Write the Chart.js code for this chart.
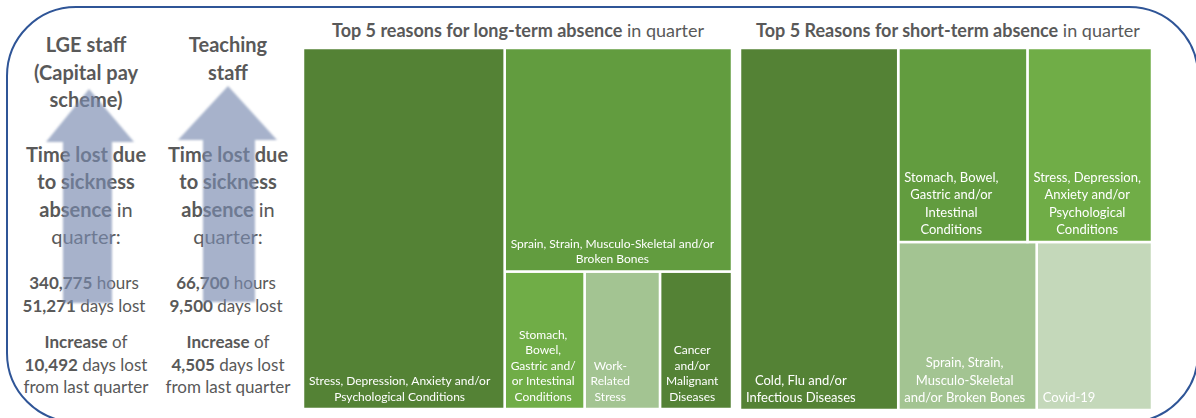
<!DOCTYPE html>
<html>
<head>
<meta charset="utf-8">
<script src="https://cdn.jsdelivr.net/npm/chart.js@4.4.0/dist/chart.umd.min.js"></script>
<style>
html, body { margin:0; padding:0; background:#fff; width:1196px; height:418px; overflow:hidden; }
body { position:relative; font-family:Lato, "Open Sans", sans-serif; color:#595959; }
#frame { position:absolute; left:6px; top:6px; width:1193px; height:417px; box-sizing:border-box;
  border:2px solid #2F5597; border-radius:70px; }
.col { position:absolute; width:160px; text-align:center; }
.col b { font-weight:700; }
.head { font-size:20px; line-height:27.5px; font-weight:700; }
.big { font-size:20px; line-height:27.3px; }
.num { font-size:17px; line-height:23px; }
.title { position:absolute; top:19px; font-size:18px; white-space:nowrap; transform:translateX(-50%); }
canvas { position:absolute; }
#arrows { position:absolute; left:0; top:0; }
</style>
</head>
<body>
<div id="frame"></div>

<div class="col head" style="left:6px;top:31px">LGE staff<br>(Capital pay<br>scheme)</div>
<div class="col head" style="left:148px;top:31px">Teaching<br>staff</div>

<div class="col big" style="left:6px;top:141px"><b>Time lost due<br>to sickness<br>absence</b> in<br>quarter:</div>
<div class="col big" style="left:148px;top:141px"><b>Time lost due<br>to sickness<br>absence</b> in<br>quarter:</div>

<div class="col num" style="left:4px;top:271px"><b>340,775</b> hours<br><b>51,271</b> days lost</div>
<div class="col num" style="left:146px;top:271px"><b>66,700</b> hours<br><b>9,500</b> days lost</div>

<div class="col num" style="left:6px;top:331px;line-height:22.5px"><b>Increase</b> of<br><b>10,492</b> days lost<br>from last quarter</div>
<div class="col num" style="left:148px;top:331px;line-height:22.5px"><b>Increase</b> of<br><b>4,505</b> days lost<br>from last quarter</div>

<svg id="arrows" width="300" height="418">
  <defs><filter id="soft"><feGaussianBlur stdDeviation="1.2"/></filter></defs>
  <g fill="rgba(120,138,176,0.66)" filter="url(#soft)">
    <polygon points="89,89 134,142 112,142 112,303 63,303 63,142 46,142"/>
    <polygon points="228,86 277,140 255,140 255,302 203,302 203,140 178,140"/>
  </g>
</svg>

<div class="title" style="left:518px"><b>Top 5 reasons for long-term absence</b> in quarter</div>
<div class="title" style="left:948px"><b>Top 5 Reasons for short-term absence</b> in quarter</div>

<canvas id="longChart" width="429" height="361" style="left:303px;top:48px"></canvas>
<canvas id="shortChart" width="412" height="362" style="left:740px;top:48px"></canvas>

<script>
// long-term absence reasons (share of time lost, %)
var longLabels = [
  ['Stress, Depression, Anxiety and/or', 'Psychological Conditions'],
  ['Sprain, Strain, Musculo-Skeletal and/or', 'Broken Bones'],
  ['Stomach,', 'Bowel,', 'Gastric and/', 'or Intestinal', 'Conditions'],
  ['Work-', 'Related', 'Stress'],
  ['Cancer', 'and/or', 'Malignant', 'Diseases']
];
var longValues = [47.0, 32.8, 7.1, 6.7, 6.4];
var longColors = ['#548235', '#629C3F', '#70AD47', '#A3C492', '#548235'];

// short-term absence reasons (share of time lost, %)
var shortLabels = [
  ['Cold, Flu and/or', 'Infectious Diseases'],
  ['Stomach, Bowel,', 'Gastric and/or', 'Intestinal', 'Conditions'],
  ['Stress, Depression,', 'Anxiety and/or', 'Psychological', 'Conditions'],
  ['Sprain, Strain,', 'Musculo-Skeletal', 'and/or Broken Bones'],
  ['Covid-19']
];
var shortValues = [38.4, 16.8, 16.2, 15.6, 13.0];
var shortColors = ['#548235', '#629C3F', '#70AD47', '#A3C492', '#C4D8BA'];

// worst aspect ratio of a row laid along a side of length s
function worst(areas, s) {
  var sum = 0, mx = -Infinity, mn = Infinity;
  areas.forEach(function (a) { sum += a; mx = Math.max(mx, a); mn = Math.min(mn, a); });
  return Math.max(s * s * mx / (sum * sum), (sum * sum) / (s * s * mn));
}

function squarify(areas, ids, x, y, w, h, out) {
  var i = 0;
  while (i < ids.length) {
    var s = Math.min(w, h);
    var row = [ids[i]], best = worst([areas[ids[i]]], s), j = i + 1;
    while (j < ids.length) {
      var r = worst(row.concat(ids[j]).map(function (k) { return areas[k]; }), s);
      if (r > best) break;
      row.push(ids[j]); best = r; j++;
    }
    var sum = row.reduce(function (t, k) { return t + areas[k]; }, 0);
    if (w >= h) {
      var cw = sum / h, yy = y;
      row.forEach(function (k) { var ch = areas[k] / cw; out[k] = [x, yy, x + cw, yy + ch]; yy += ch; });
      x += cw; w -= cw;
    } else {
      var rh = sum / w, xx = x;
      row.forEach(function (k) { var rw = areas[k] / rh; out[k] = [xx, y, xx + rw, y + rh]; xx += rw; });
      y += rh; h -= rh;
    }
    i = j;
  }
}

// biggest reason takes a full-height column, the rest is squarified
function treemap(values, W, H) {
  var total = values.reduce(function (a, b) { return a + b; }, 0);
  var areas = values.map(function (v) { return v / total * W * H; });
  var out = [];
  var w0 = areas[0] / H;
  out[0] = [0, 0, w0, H];
  var rest = [];
  for (var k = 1; k < values.length; k++) rest.push(k);
  squarify(areas, rest, w0, 0, W - w0, H, out);
  return out;
}

var cellLabels = {
  id: 'cellLabels',
  afterDatasetsDraw: function (chart, args, opts) {
    var ctx = chart.ctx, xs = chart.scales.x, ys = chart.scales.y;
    ctx.save();
    ctx.fillStyle = '#fff';
    ctx.font = opts.size + 'px Lato, "Open Sans", sans-serif';
    ctx.textAlign = 'center';
    ctx.textBaseline = 'middle';
    chart.data.datasets.forEach(function (ds) {
      var r = ds.rect;
      var left = xs.getPixelForValue(r[0]);
      var bottom = ys.getPixelForValue(r[3]);
      var lines = ds.label;
      var bw = Math.max.apply(null, lines.map(function (t) { return ctx.measureText(t).width; }));
      var cx = left + 6 + bw / 2;
      lines.forEach(function (t, i) {
        ctx.fillText(t, cx, bottom - 12 - (lines.length - 1 - i) * opts.lineHeight);
      });
    });
    ctx.restore();
  }
};

function makeTreemap(id, labels, values, colors, fontSize, lineHeight) {
  var canvas = document.getElementById(id);
  var W = canvas.width, H = canvas.height;
  var rects = treemap(values, W, H);
  var datasets = rects.map(function (r, i) {
    return {
      label: labels[i],
      rect: r,
      data: [{x: r[0], y: r[1]}, {x: r[2], y: r[1]}, {x: r[2], y: r[3]}, {x: r[0], y: r[3]}, {x: r[0], y: r[1]}],
      fill: 'shape',
      backgroundColor: colors[i],
      borderColor: '#ffffff',
      borderWidth: 2.5,
      borderJoinStyle: 'miter',
      pointRadius: 0,
      tension: 0
    };
  });
  return new Chart(canvas, {
    type: 'line',
    data: { datasets: datasets },
    options: {
      responsive: false,
      animation: false,
      devicePixelRatio: 1,
      layout: { padding: 0 },
      scales: {
        x: { type: 'linear', min: 0, max: W, display: false },
        y: { type: 'linear', min: 0, max: H, reverse: true, display: false }
      },
      plugins: {
        legend: { display: false },
        tooltip: { enabled: false },
        cellLabels: { size: fontSize, lineHeight: lineHeight }
      }
    },
    plugins: [cellLabels]
  });
}

makeTreemap('longChart', longLabels, longValues, longColors, 12, 15.5);
makeTreemap('shortChart', shortLabels, shortValues, shortColors, 13, 17.4);
</script>
</body>
</html>
